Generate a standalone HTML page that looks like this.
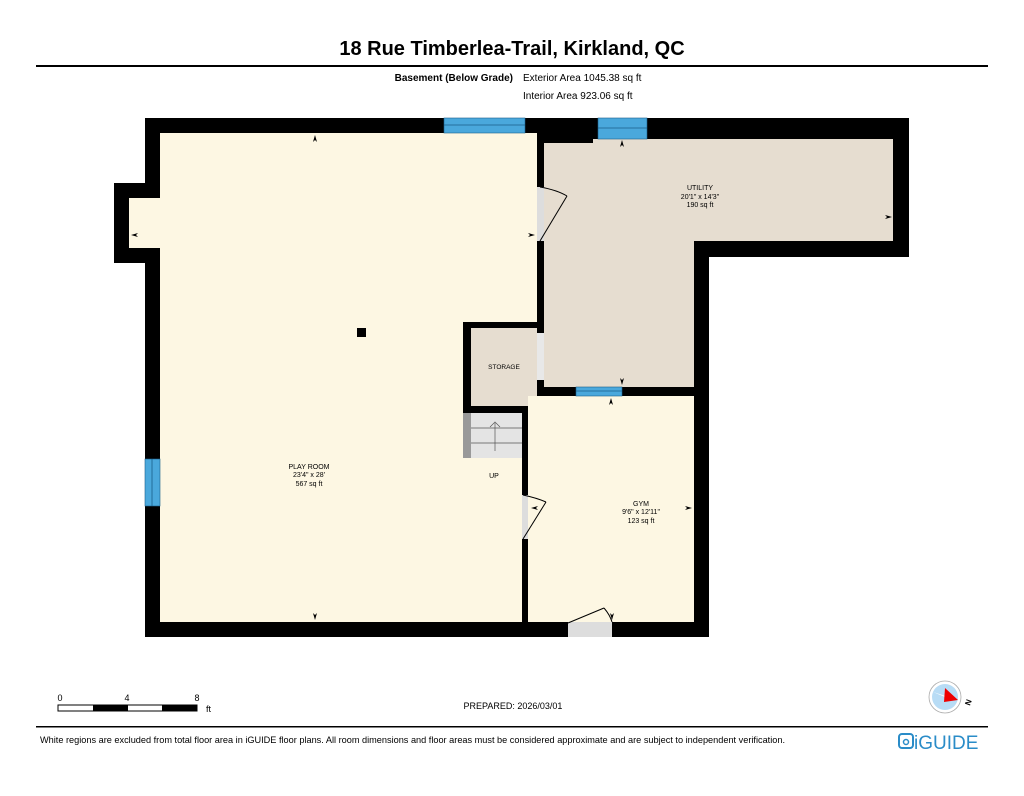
<!DOCTYPE html>
<html><head><style>
body{margin:0;width:1024px;height:791px;background:#fff;overflow:hidden;font-family:"Liberation Sans",sans-serif}
</style></head><body>
<svg width="1024" height="791" viewBox="0 0 1024 791" xmlns="http://www.w3.org/2000/svg" font-family="Liberation Sans, sans-serif">
<text x="512" y="55" font-size="20" font-weight="bold" text-anchor="middle">18 Rue Timberlea-Trail, Kirkland, QC</text>
<rect x="36" y="65" width="952" height="2" fill="#000"/>
<text x="513" y="81" font-size="10" font-weight="bold" text-anchor="end">Basement (Below Grade)</text>
<text x="523" y="81" font-size="10">Exterior Area 1045.38 sq ft</text>
<text x="523" y="99" font-size="10">Interior Area 923.06 sq ft</text>
<g fill="#000">
<rect x="145" y="118" width="395" height="519"/>
<rect x="114" y="183" width="46" height="80"/>
<rect x="522" y="118" width="387" height="139"/>
<rect x="522" y="250" width="187" height="387"/>
</g>
<rect x="160" y="133" width="377" height="489" fill="#fdf7e3"/>
<rect x="129" y="198" width="32" height="50" fill="#fdf7e3"/>
<rect x="463" y="322" width="75" height="92" fill="#000"/>
<rect x="463" y="406" width="65" height="216" fill="#000"/>
<rect x="160" y="414" width="303" height="208" fill="#fdf7e3"/>
<rect x="463" y="458" width="59" height="164" fill="#fdf7e3"/>
<rect x="544" y="143" width="349" height="98" fill="#e6ddd0"/>
<rect x="593" y="139" width="300" height="5" fill="#e6ddd0"/>
<rect x="544" y="240" width="150" height="147" fill="#e6ddd0"/>
<rect x="471" y="328" width="66" height="78" fill="#e6ddd0"/>
<rect x="528" y="396" width="166" height="226" fill="#fdf7e3"/>
<rect x="463" y="413" width="59" height="45" fill="#e4e4e4"/>
<rect x="463" y="413" width="8" height="45" fill="#999"/>
<g stroke="#555" stroke-width="0.7" fill="none">
<line x1="471" y1="428" x2="522" y2="428"/><line x1="471" y1="443" x2="522" y2="443"/>
<line x1="495" y1="451" x2="495" y2="423"/><polyline points="490,427 495,422 500,427"/>
</g>
<rect x="537" y="187" width="7" height="54" fill="#ddd"/>
<rect x="537" y="333" width="7" height="47" fill="#e8e8e8"/>
<rect x="522" y="495" width="6" height="44" fill="#ddd"/>
<rect x="568" y="622" width="44" height="15" fill="#ddd"/>
<g stroke="#000" stroke-width="1" fill="none">
<line x1="540" y1="241" x2="567" y2="196"/><path d="M540 187 Q557 190 567 196"/>
<line x1="523" y1="539" x2="546" y2="502"/><path d="M523 495 Q537 498 546 502"/>
<line x1="568" y1="623" x2="604" y2="608"/><path d="M604 608 Q610 615 612 622"/>
</g>
<g fill="#4aa8dc" stroke="#1a5f8a" stroke-width="0.6">
<rect x="444" y="118" width="81" height="15"/><rect x="598" y="118" width="49" height="21"/>
<rect x="145" y="459" width="15" height="47"/><rect x="576" y="387" width="46" height="9"/>
</g>
<g stroke="#1a5f8a" stroke-width="0.8">
<line x1="444" y1="125" x2="525" y2="125"/><line x1="598" y1="128" x2="647" y2="128"/>
<line x1="152" y1="459" x2="152" y2="506"/><line x1="576" y1="391" x2="622" y2="391"/>
</g>
<rect x="357" y="328" width="9" height="9" fill="#000"/>
<g fill="#000">
<path d="M315 135 l-2 7 l2 -2 l2 2z"/><path d="M315 620 l-2 -7 l2 2 l2 -2z"/>
<path d="M131 235 l7 -2 l-2 2 l2 2z"/><path d="M535 235 l-7 -2 l2 2 l-2 2z"/>
<path d="M622 140 l-2 7 l2 -2 l2 2z"/><path d="M892 217 l-7 -2 l2 2 l-2 2z"/>
<path d="M622 385 l-2 -7 l2 2 l2 -2z"/><path d="M611 398 l-2 7 l2 -2 l2 2z"/>
<path d="M692 508 l-7 -2 l2 2 l-2 2z"/><path d="M531 508 l7 -2 l-2 2 l2 2z"/>
<path d="M612 620 l-2 -7 l2 2 l2 -2z"/>
</g>
<g font-size="7" text-anchor="middle">
<text x="700" y="190">UTILITY</text><text x="700" y="199">20'1" x 14'3"</text><text x="700" y="207">190 sq ft</text>
<text x="504" y="369" font-size="6.5">STORAGE</text>
<text x="494" y="478">UP</text>
<text x="309" y="469">PLAY ROOM</text><text x="309" y="477">23'4" x 28'</text><text x="309" y="486">567 sq ft</text>
<text x="641" y="506">GYM</text><text x="641" y="514">9'6" x 12'11"</text><text x="641" y="523">123 sq ft</text>
</g>
<g font-size="9">
<text x="60" y="701" text-anchor="middle">0</text><text x="127" y="701" text-anchor="middle">4</text><text x="197" y="701" text-anchor="middle">8</text>
<text x="206" y="712">ft</text>
</g>
<rect x="58" y="705" width="139" height="6" fill="#fff" stroke="#000" stroke-width="1"/>
<rect x="93" y="705" width="35" height="6" fill="#000"/><rect x="162" y="705" width="35" height="6" fill="#000"/>
<text x="513" y="709" font-size="9" text-anchor="middle">PREPARED: 2026/03/01</text>
<circle cx="945" cy="697" r="16" fill="#fff" stroke="#aaa" stroke-width="0.8"/>
<circle cx="945" cy="697" r="13" fill="#b8dcf5"/>
<polygon points="933,692 958,700 945,697" fill="#fff"/>
<polygon points="945,688 958,700 944,702" fill="#e00"/>
<text x="967" y="708" font-size="8" font-weight="bold" transform="rotate(-70 967 705)">N</text>
<rect x="36" y="726" width="952" height="1.5" fill="#000"/>
<text x="40" y="743" font-size="9.2" textLength="745" lengthAdjust="spacingAndGlyphs">White regions are excluded from total floor area in iGUIDE floor plans. All room dimensions and floor areas must be considered approximate and are subject to independent verification.</text>
<rect x="899" y="734" width="14" height="14" rx="3" fill="none" stroke="#2a8cc8" stroke-width="2"/>
<circle cx="906" cy="742" r="2.5" fill="none" stroke="#2a8cc8" stroke-width="1.5"/>
<text x="914" y="749" font-size="19" fill="#2a8cc8">iGUIDE</text>
</svg>
</body></html>
